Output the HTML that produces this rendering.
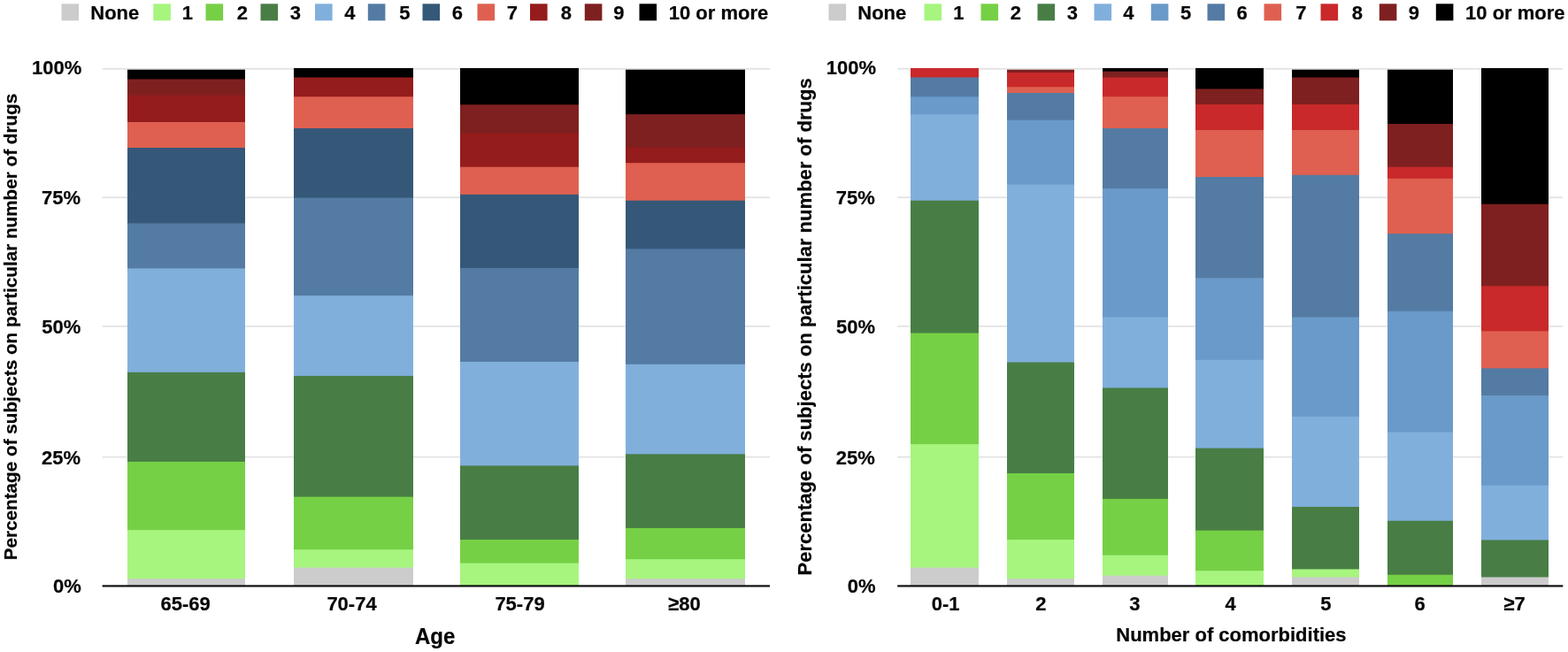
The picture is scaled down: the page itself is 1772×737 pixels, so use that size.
<!DOCTYPE html>
<html lang="en">
<head>
<meta charset="utf-8">
<title>Number of drugs by age and by number of comorbidities</title>
<style>
html,body{margin:0;padding:0;background:#ffffff;}
body{width:1772px;height:737px;overflow:hidden;}
svg{display:block;}
text{font-family:"Liberation Sans",sans-serif;font-weight:700;fill:#050505;stroke:#050505;stroke-width:0.2px;}
</style>
</head>
<body>
<svg role="img" aria-label="Stacked bar charts: percentage of subjects on particular number of drugs, by age and by number of comorbidities" width="1772" height="737" viewBox="0 0 1772 737">
<rect x="0" y="0" width="1772" height="737" fill="#ffffff"/>
<rect x="115.60" y="76.90" width="754.40" height="1.80" fill="#e3e3e3"/>
<rect x="115.60" y="222.30" width="754.40" height="1.80" fill="#e3e3e3"/>
<rect x="115.60" y="367.90" width="754.40" height="1.80" fill="#e3e3e3"/>
<rect x="115.60" y="515.70" width="754.40" height="1.80" fill="#e3e3e3"/>
<rect x="144.00" y="78.70" width="133.00" height="583.10" fill="#000000"/>
<rect x="144.00" y="89.50" width="133.00" height="572.30" fill="#7f2020"/>
<rect x="144.00" y="107.50" width="133.00" height="554.30" fill="#951c1c"/>
<rect x="144.00" y="138.00" width="133.00" height="523.80" fill="#df6050"/>
<rect x="144.00" y="167.00" width="133.00" height="494.80" fill="#355878"/>
<rect x="144.00" y="252.40" width="133.00" height="409.40" fill="#547ba3"/>
<rect x="144.00" y="303.40" width="133.00" height="358.40" fill="#81afdc"/>
<rect x="144.00" y="420.80" width="133.00" height="241.00" fill="#487e45"/>
<rect x="144.00" y="521.90" width="133.00" height="139.90" fill="#76d045"/>
<rect x="144.00" y="599.10" width="133.00" height="62.70" fill="#a7f57f"/>
<rect x="144.00" y="654.20" width="133.00" height="7.60" fill="#cccccc"/>
<rect x="332.00" y="77.00" width="135.00" height="584.80" fill="#000000"/>
<rect x="332.00" y="87.50" width="135.00" height="574.30" fill="#951c1c"/>
<rect x="332.00" y="109.30" width="135.00" height="552.50" fill="#df6050"/>
<rect x="332.00" y="145.00" width="135.00" height="516.80" fill="#355878"/>
<rect x="332.00" y="223.50" width="135.00" height="438.30" fill="#547ba3"/>
<rect x="332.00" y="334.10" width="135.00" height="327.70" fill="#81afdc"/>
<rect x="332.00" y="424.90" width="135.00" height="236.90" fill="#487e45"/>
<rect x="332.00" y="561.60" width="135.00" height="100.20" fill="#76d045"/>
<rect x="332.00" y="621.20" width="135.00" height="40.60" fill="#a7f57f"/>
<rect x="332.00" y="641.60" width="135.00" height="20.20" fill="#cccccc"/>
<rect x="520.00" y="77.00" width="134.00" height="584.80" fill="#000000"/>
<rect x="520.00" y="118.30" width="134.00" height="543.50" fill="#7f2020"/>
<rect x="520.00" y="150.80" width="134.00" height="511.00" fill="#951c1c"/>
<rect x="520.00" y="188.70" width="134.00" height="473.10" fill="#df6050"/>
<rect x="520.00" y="219.90" width="134.00" height="441.90" fill="#355878"/>
<rect x="520.00" y="303.00" width="134.00" height="358.80" fill="#547ba3"/>
<rect x="520.00" y="409.00" width="134.00" height="252.80" fill="#81afdc"/>
<rect x="520.00" y="526.40" width="134.00" height="135.40" fill="#487e45"/>
<rect x="520.00" y="610.00" width="134.00" height="51.80" fill="#76d045"/>
<rect x="520.00" y="636.60" width="134.00" height="25.20" fill="#a7f57f"/>
<rect x="707.00" y="78.70" width="135.00" height="583.10" fill="#000000"/>
<rect x="707.00" y="129.20" width="135.00" height="532.60" fill="#7f2020"/>
<rect x="707.00" y="166.70" width="135.00" height="495.10" fill="#951c1c"/>
<rect x="707.00" y="184.20" width="135.00" height="477.60" fill="#df6050"/>
<rect x="707.00" y="226.70" width="135.00" height="435.10" fill="#355878"/>
<rect x="707.00" y="281.30" width="135.00" height="380.50" fill="#547ba3"/>
<rect x="707.00" y="411.80" width="135.00" height="250.00" fill="#81afdc"/>
<rect x="707.00" y="513.30" width="135.00" height="148.50" fill="#487e45"/>
<rect x="707.00" y="596.90" width="135.00" height="64.90" fill="#76d045"/>
<rect x="707.00" y="632.10" width="135.00" height="29.70" fill="#a7f57f"/>
<rect x="707.00" y="654.20" width="135.00" height="7.60" fill="#cccccc"/>
<rect x="115.60" y="661.30" width="754.40" height="2.20" fill="#111111"/>
<rect x="1014.20" y="76.90" width="752.10" height="1.80" fill="#e3e3e3"/>
<rect x="1014.20" y="222.30" width="752.10" height="1.80" fill="#e3e3e3"/>
<rect x="1014.20" y="367.90" width="752.10" height="1.80" fill="#e3e3e3"/>
<rect x="1014.20" y="515.70" width="752.10" height="1.80" fill="#e3e3e3"/>
<rect x="1029.00" y="77.00" width="77.00" height="584.80" fill="#c9292b"/>
<rect x="1029.00" y="87.50" width="77.00" height="574.30" fill="#547ba3"/>
<rect x="1029.00" y="109.30" width="77.00" height="552.50" fill="#6a9ac9"/>
<rect x="1029.00" y="129.20" width="77.00" height="532.60" fill="#81afdc"/>
<rect x="1029.00" y="226.70" width="77.00" height="435.10" fill="#487e45"/>
<rect x="1029.00" y="376.50" width="77.00" height="285.30" fill="#76d045"/>
<rect x="1029.00" y="502.10" width="77.00" height="159.70" fill="#a7f57f"/>
<rect x="1029.00" y="641.60" width="77.00" height="20.20" fill="#cccccc"/>
<rect x="1138.00" y="78.70" width="76.00" height="583.10" fill="#7f2020"/>
<rect x="1138.00" y="82.00" width="76.00" height="579.80" fill="#c9292b"/>
<rect x="1138.00" y="98.30" width="76.00" height="563.50" fill="#df6050"/>
<rect x="1138.00" y="105.00" width="76.00" height="556.80" fill="#547ba3"/>
<rect x="1138.00" y="135.70" width="76.00" height="526.10" fill="#6a9ac9"/>
<rect x="1138.00" y="208.60" width="76.00" height="453.20" fill="#81afdc"/>
<rect x="1138.00" y="409.50" width="76.00" height="252.30" fill="#487e45"/>
<rect x="1138.00" y="535.00" width="76.00" height="126.80" fill="#76d045"/>
<rect x="1138.00" y="610.00" width="76.00" height="51.80" fill="#a7f57f"/>
<rect x="1138.00" y="654.20" width="76.00" height="7.60" fill="#cccccc"/>
<rect x="1246.00" y="77.00" width="74.00" height="584.80" fill="#000000"/>
<rect x="1246.00" y="80.70" width="74.00" height="581.10" fill="#7f2020"/>
<rect x="1246.00" y="87.50" width="74.00" height="574.30" fill="#c9292b"/>
<rect x="1246.00" y="109.30" width="74.00" height="552.50" fill="#df6050"/>
<rect x="1246.00" y="145.00" width="74.00" height="516.80" fill="#547ba3"/>
<rect x="1246.00" y="213.10" width="74.00" height="448.70" fill="#6a9ac9"/>
<rect x="1246.00" y="358.50" width="74.00" height="303.30" fill="#81afdc"/>
<rect x="1246.00" y="438.40" width="74.00" height="223.40" fill="#487e45"/>
<rect x="1246.00" y="563.90" width="74.00" height="97.90" fill="#76d045"/>
<rect x="1246.00" y="627.60" width="74.00" height="34.20" fill="#a7f57f"/>
<rect x="1246.00" y="650.60" width="74.00" height="11.20" fill="#cccccc"/>
<rect x="1351.00" y="77.00" width="77.00" height="584.80" fill="#000000"/>
<rect x="1351.00" y="100.50" width="77.00" height="561.30" fill="#7f2020"/>
<rect x="1351.00" y="118.00" width="77.00" height="543.80" fill="#c9292b"/>
<rect x="1351.00" y="147.00" width="77.00" height="514.80" fill="#df6050"/>
<rect x="1351.00" y="200.00" width="77.00" height="461.80" fill="#547ba3"/>
<rect x="1351.00" y="314.20" width="77.00" height="347.60" fill="#6a9ac9"/>
<rect x="1351.00" y="406.80" width="77.00" height="255.00" fill="#81afdc"/>
<rect x="1351.00" y="506.60" width="77.00" height="155.20" fill="#487e45"/>
<rect x="1351.00" y="599.60" width="77.00" height="62.20" fill="#76d045"/>
<rect x="1351.00" y="645.20" width="77.00" height="16.60" fill="#a7f57f"/>
<rect x="1460.00" y="78.70" width="76.00" height="583.10" fill="#000000"/>
<rect x="1460.00" y="87.50" width="76.00" height="574.30" fill="#7f2020"/>
<rect x="1460.00" y="118.00" width="76.00" height="543.80" fill="#c9292b"/>
<rect x="1460.00" y="147.00" width="76.00" height="514.80" fill="#df6050"/>
<rect x="1460.00" y="197.80" width="76.00" height="464.00" fill="#547ba3"/>
<rect x="1460.00" y="358.50" width="76.00" height="303.30" fill="#6a9ac9"/>
<rect x="1460.00" y="470.90" width="76.00" height="190.90" fill="#81afdc"/>
<rect x="1460.00" y="572.90" width="76.00" height="88.90" fill="#487e45"/>
<rect x="1460.00" y="643.40" width="76.00" height="18.40" fill="#a7f57f"/>
<rect x="1460.00" y="652.40" width="76.00" height="9.40" fill="#cccccc"/>
<rect x="1568.00" y="78.70" width="74.00" height="583.10" fill="#000000"/>
<rect x="1568.00" y="140.00" width="74.00" height="521.80" fill="#7f2020"/>
<rect x="1568.00" y="188.70" width="74.00" height="473.10" fill="#c9292b"/>
<rect x="1568.00" y="201.80" width="74.00" height="460.00" fill="#df6050"/>
<rect x="1568.00" y="264.10" width="74.00" height="397.70" fill="#547ba3"/>
<rect x="1568.00" y="351.70" width="74.00" height="310.10" fill="#6a9ac9"/>
<rect x="1568.00" y="488.50" width="74.00" height="173.30" fill="#81afdc"/>
<rect x="1568.00" y="588.70" width="74.00" height="73.10" fill="#487e45"/>
<rect x="1568.00" y="649.70" width="74.00" height="12.10" fill="#76d045"/>
<rect x="1674.00" y="77.00" width="76.00" height="584.80" fill="#000000"/>
<rect x="1674.00" y="230.70" width="76.00" height="431.10" fill="#7f2020"/>
<rect x="1674.00" y="323.30" width="76.00" height="338.50" fill="#c9292b"/>
<rect x="1674.00" y="374.30" width="76.00" height="287.50" fill="#df6050"/>
<rect x="1674.00" y="416.30" width="76.00" height="245.50" fill="#547ba3"/>
<rect x="1674.00" y="447.00" width="76.00" height="214.80" fill="#6a9ac9"/>
<rect x="1674.00" y="548.60" width="76.00" height="113.20" fill="#81afdc"/>
<rect x="1674.00" y="610.40" width="76.00" height="51.40" fill="#487e45"/>
<rect x="1674.00" y="652.40" width="76.00" height="9.40" fill="#cccccc"/>
<rect x="1014.20" y="661.30" width="752.10" height="2.20" fill="#111111"/>
<rect x="69.50" y="4.30" width="19.60" height="19.00" fill="#cccccc"/>
<text transform="translate(102.3,21.6) scale(1.0,1.04)" font-size="22" text-anchor="start">None</text>
<rect x="173.30" y="4.30" width="19.60" height="19.00" fill="#a7f57f"/>
<text transform="translate(205.8,21.6) scale(1.0,1.04)" font-size="22" text-anchor="start">1</text>
<rect x="232.50" y="4.30" width="19.60" height="19.00" fill="#76d045"/>
<text transform="translate(267.8,21.6) scale(1.0,1.04)" font-size="22" text-anchor="start">2</text>
<rect x="294.50" y="4.30" width="19.60" height="19.00" fill="#487e45"/>
<text transform="translate(327.8,21.6) scale(1.0,1.04)" font-size="22" text-anchor="start">3</text>
<rect x="356.00" y="4.30" width="19.60" height="19.00" fill="#81afdc"/>
<text transform="translate(389.3,21.6) scale(1.0,1.04)" font-size="22" text-anchor="start">4</text>
<rect x="415.80" y="4.30" width="19.60" height="19.00" fill="#547ba3"/>
<text transform="translate(451.3,21.6) scale(1.0,1.04)" font-size="22" text-anchor="start">5</text>
<rect x="477.50" y="4.30" width="19.60" height="19.00" fill="#355878"/>
<text transform="translate(510.8,21.6) scale(1.0,1.04)" font-size="22" text-anchor="start">6</text>
<rect x="539.50" y="4.30" width="19.60" height="19.00" fill="#df6050"/>
<text transform="translate(572.8,21.6) scale(1.0,1.04)" font-size="22" text-anchor="start">7</text>
<rect x="599.00" y="4.30" width="19.60" height="19.00" fill="#951c1c"/>
<text transform="translate(633.8,21.6) scale(1.0,1.04)" font-size="22" text-anchor="start">8</text>
<rect x="660.80" y="4.30" width="19.60" height="19.00" fill="#7f2020"/>
<text transform="translate(693.3,21.6) scale(1.0,1.04)" font-size="22" text-anchor="start">9</text>
<rect x="722.50" y="4.30" width="19.60" height="19.00" fill="#000000"/>
<text transform="translate(755.8,21.6) scale(1.0,1.04)" font-size="22" text-anchor="start">10 or more</text>
<rect x="936.50" y="4.30" width="19.60" height="19.00" fill="#cccccc"/>
<text transform="translate(969.3,21.6) scale(1.0,1.04)" font-size="22" text-anchor="start">None</text>
<rect x="1044.50" y="4.30" width="19.60" height="19.00" fill="#a7f57f"/>
<text transform="translate(1077.3,21.6) scale(1.0,1.04)" font-size="22" text-anchor="start">1</text>
<rect x="1108.50" y="4.30" width="19.60" height="19.00" fill="#76d045"/>
<text transform="translate(1141.8,21.6) scale(1.0,1.04)" font-size="22" text-anchor="start">2</text>
<rect x="1172.50" y="4.30" width="19.60" height="19.00" fill="#487e45"/>
<text transform="translate(1205.8,21.6) scale(1.0,1.04)" font-size="22" text-anchor="start">3</text>
<rect x="1236.50" y="4.30" width="19.60" height="19.00" fill="#81afdc"/>
<text transform="translate(1269.3,21.6) scale(1.0,1.04)" font-size="22" text-anchor="start">4</text>
<rect x="1300.80" y="4.30" width="19.60" height="19.00" fill="#6a9ac9"/>
<text transform="translate(1334.0,21.6) scale(1.0,1.04)" font-size="22" text-anchor="start">5</text>
<rect x="1364.50" y="4.30" width="19.60" height="19.00" fill="#547ba3"/>
<text transform="translate(1397.5,21.6) scale(1.0,1.04)" font-size="22" text-anchor="start">6</text>
<rect x="1428.50" y="4.30" width="19.60" height="19.00" fill="#df6050"/>
<text transform="translate(1464.3,21.6) scale(1.0,1.04)" font-size="22" text-anchor="start">7</text>
<rect x="1492.50" y="4.30" width="19.60" height="19.00" fill="#c9292b"/>
<text transform="translate(1527.8,21.6) scale(1.0,1.04)" font-size="22" text-anchor="start">8</text>
<rect x="1558.80" y="4.30" width="19.60" height="19.00" fill="#7f2020"/>
<text transform="translate(1591.8,21.6) scale(1.0,1.04)" font-size="22" text-anchor="start">9</text>
<rect x="1622.80" y="4.30" width="19.60" height="19.00" fill="#000000"/>
<text transform="translate(1656.1,21.6) scale(1.0,1.04)" font-size="22" text-anchor="start">10 or more</text>
<text transform="translate(92.2,83.65) scale(1.0,1.04)" font-size="22" text-anchor="end">100%</text>
<text transform="translate(91.10000000000001,231.3) scale(1.0,1.04)" font-size="22" text-anchor="end">75%</text>
<text transform="translate(91.35000000000001,376.8) scale(1.0,1.04)" font-size="22" text-anchor="end">50%</text>
<text transform="translate(91.10000000000001,524.8) scale(1.0,1.04)" font-size="22" text-anchor="end">25%</text>
<text transform="translate(91.7,670.45) scale(1.0,1.04)" font-size="22" text-anchor="end">0%</text>
<text transform="translate(990.0,83.65) scale(1.0,1.04)" font-size="22" text-anchor="end">100%</text>
<text transform="translate(988.9,231.3) scale(1.0,1.04)" font-size="22" text-anchor="end">75%</text>
<text transform="translate(989.15,376.8) scale(1.0,1.04)" font-size="22" text-anchor="end">50%</text>
<text transform="translate(988.9,524.8) scale(1.0,1.04)" font-size="22" text-anchor="end">25%</text>
<text transform="translate(989.5,670.45) scale(1.0,1.04)" font-size="22" text-anchor="end">0%</text>
<text transform="translate(209.7,690.15) scale(1.0,1.04)" font-size="22" text-anchor="middle">65-69</text>
<text transform="translate(397.5,690.15) scale(1.0,1.04)" font-size="22" text-anchor="middle">70-74</text>
<text transform="translate(587.5,690.15) scale(1.0,1.04)" font-size="22" text-anchor="middle">75-79</text>
<text transform="translate(773.5,690.15) scale(1.0,1.04)" font-size="22" text-anchor="middle">≥80</text>
<text transform="translate(1068.7,690.15) scale(1.0,1.04)" font-size="22" text-anchor="middle">0-1</text>
<text transform="translate(1176.4,690.15) scale(1.0,1.04)" font-size="22" text-anchor="middle">2</text>
<text transform="translate(1282.3,690.15) scale(1.0,1.04)" font-size="22" text-anchor="middle">3</text>
<text transform="translate(1390.5,690.15) scale(1.0,1.04)" font-size="22" text-anchor="middle">4</text>
<text transform="translate(1498.4,690.15) scale(1.0,1.04)" font-size="22" text-anchor="middle">5</text>
<text transform="translate(1604.6,690.15) scale(1.0,1.04)" font-size="22" text-anchor="middle">6</text>
<text transform="translate(1711.6,690.15) scale(1.0,1.04)" font-size="22" text-anchor="middle">≥7</text>
<text transform="translate(491.7,727.5) scale(1.0,1.04)" font-size="24" text-anchor="middle">Age</text>
<text transform="translate(1391.4,724.5) scale(1.0,1.04)" font-size="22" text-anchor="middle">Number of comorbidities</text>
<text transform="translate(19.4,369.5) rotate(-90) scale(1.0,1.02)" font-size="20.7" text-anchor="middle">Percentage of subjects on particular number of drugs</text>
<text transform="translate(917.0,369.4) rotate(-90) scale(1.003,1.0)" font-size="22" text-anchor="middle">Percentage of subjects on particular number of drugs</text>
</svg>
</body>
</html>
